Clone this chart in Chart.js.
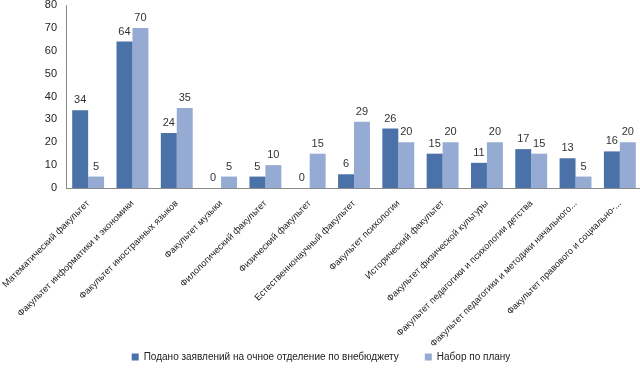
<!DOCTYPE html>
<html>
<head>
<meta charset="utf-8">
<script src="https://cdn.jsdelivr.net/npm/chart.js@4.4.1/dist/chart.umd.min.js"></script>
<style>
html,body{margin:0;padding:0;background:#fff;overflow:hidden;}
#wrap{width:644px;height:372px;position:relative;}
</style>
</head>
<body>
<div id="wrap"><canvas id="chart"></canvas></div>
<script>
const categories=[
"Математический факультет",
"Факультет информатики и экономики",
"Факультет иностранных языков",
"Факультет музыки",
"Филологический факультет",
"Физический факультет",
"Естественнонаучный факультет",
"Факультет психологии",
"Исторический факультет",
"Факультет физической культуры",
"Факультет педагогики и психологии детства",
"Факультет педагогики и методики начального...",
"Факультет правового и социально-..."
];
const applied=[34,64,24,0,5,0,6,26,15,11,17,13,16];
const planned=[5,70,35,5,10,15,29,20,20,20,15,5,20];
const seriesNames=["Подано заявлений на очное отделение по внебюджету","Набор по плану"];
const yTicks=[0,10,20,30,40,50,60,70,80];

const FONT="'Liberation Sans', Arial, sans-serif";

const valueLabels={
id:"valueLabels",
afterDatasetsDraw(chart){
const ctx=chart.ctx;
ctx.save();
ctx.font="11px "+FONT;
ctx.fillStyle="#333";
ctx.textAlign="center";
ctx.textBaseline="middle";
chart.data.datasets.forEach((ds,i)=>{
chart.getDatasetMeta(i).data.forEach((bar,j)=>{
ctx.fillText(ds.data[j],bar.x,bar.y-10);
});
});
ctx.restore();
}
};

const ctx=document.getElementById("chart").getContext("2d");
new Chart(ctx,{
type:"bar",
data:{
labels:categories,
datasets:[{
label:seriesNames[0],
data:applied,
backgroundColor:"#4A72A8",
borderWidth:0,
categoryPercentage:0.72,
barPercentage:1
},{
label:seriesNames[1],
data:planned,
backgroundColor:"#95ABD4",
borderWidth:0,
categoryPercentage:0.72,
barPercentage:1
}]
},
options:{
responsive:true,
maintainAspectRatio:false,
animation:false,
layout:{padding:{left:0,right:2,top:5,bottom:0}},
plugins:{
legend:{
position:"bottom",
labels:{
boxWidth:7,
boxHeight:7,
padding:26,
color:"#222",
font:{family:FONT,size:10}
}
},
tooltip:{enabled:false}
},
scales:{
x:{
grid:{display:false},
border:{display:true,color:"#8a8a8a"},
ticks:{
autoSkip:false,
maxRotation:45,
minRotation:45,
padding:2,
color:"#222",
font:{family:FONT,size:9.3}
},
afterFit:(s)=>{
s.paddingLeft=0;s.paddingRight=0;s.height=138;
// long labels run a bit into the legend band, don't clip them
s._computeLabelArea=()=>undefined;
}
},
y:{
min:0,
max:80,
afterBuildTicks:(s)=>{s.ticks=yTicks.map(v=>({value:v}));},
grid:{display:false,drawTicks:false},
border:{display:true,color:"#8a8a8a"},
ticks:{
padding:9,
color:"#222",
font:{family:FONT,size:11}
},
afterFit:(s)=>{s.width=66;s.paddingTop=0;}
}
}
},
plugins:[valueLabels]
});
</script>
</body>
</html>
